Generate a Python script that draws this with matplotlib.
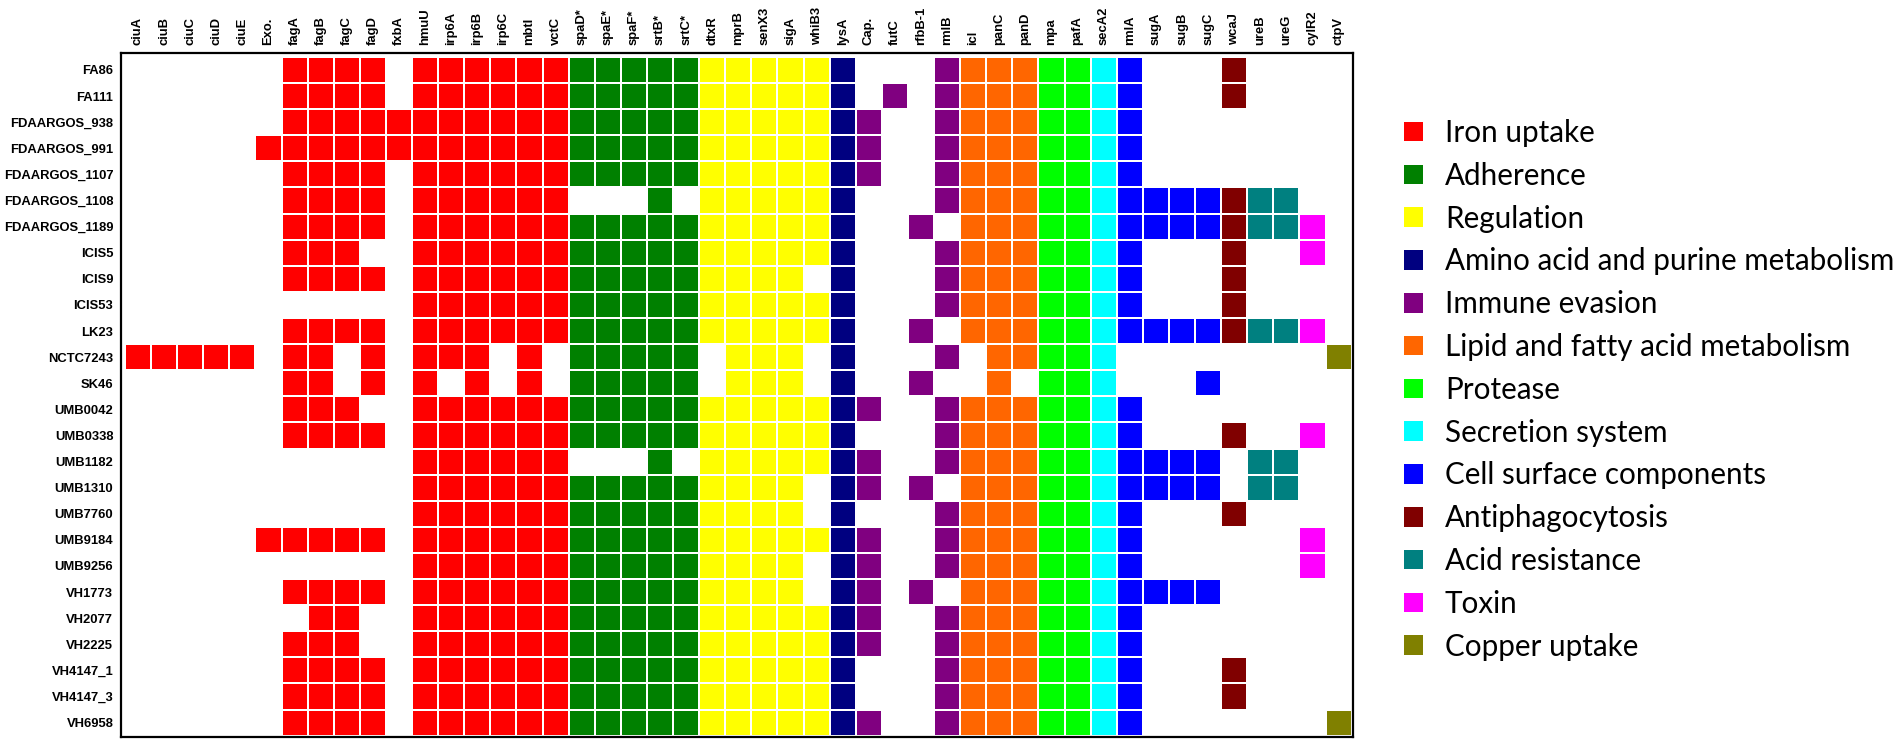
import numpy as np
import matplotlib
matplotlib.use('Agg')
from matplotlib import pyplot as plt
from matplotlib.colors import ListedColormap, BoundaryNorm
from matplotlib.patches import Patch

# strains (rows) and virulence genes (columns)
strains = ['FA86', 'FA111', 'FDAARGOS_938', 'FDAARGOS_991', 'FDAARGOS_1107', 'FDAARGOS_1108',
           'FDAARGOS_1189', 'ICIS5', 'ICIS9', 'ICIS53', 'LK23', 'NCTC7243', 'SK46', 'UMB0042',
           'UMB0338', 'UMB1182', 'UMB1310', 'UMB7760', 'UMB9184', 'UMB9256', 'VH1773', 'VH2077',
           'VH2225', 'VH4147_1', 'VH4147_3', 'VH6958']

genes = ['ciuA', 'ciuB', 'ciuC', 'ciuD', 'ciuE', 'Exo.', 'fagA', 'fagB', 'fagC', 'fagD', 'fxbA',
         'hmuU', 'irp6A', 'irp6B', 'irp6C', 'mbtI', 'vctC', 'spaD*', 'spaE*', 'spaF*', 'srtB*', 'srtC*',
         'dtxR', 'mprB', 'senX3', 'sigA', 'whiB3', 'lysA', 'Cap.', 'futC', 'rfbB-1', 'rmlB', 'icl',
         'panC', 'panD', 'mpa', 'pafA', 'secA2', 'rmlA', 'sugA', 'sugB', 'sugC', 'wcaJ', 'ureB', 'ureG',
         'cylR2', 'ctpV']

groups = ['Iron uptake', 'Adherence', 'Regulation', 'Amino acid and purine metabolism',
          'Immune evasion', 'Lipid and fatty acid metabolism', 'Protease', 'Secretion system',
          'Cell surface components', 'Antiphagocytosis', 'Acid resistance', 'Toxin', 'Copper uptake']

group_colors = ['#FF0000', '#008000', '#FFFF00', '#000080', '#800080', '#FF6600', '#00FF00',
                '#00FFFF', '#0000FF', '#800000', '#008080', '#FF00FF', '#808000']

# group index of every gene column
gene_groups = [0] * 17 + [1] * 5 + [2] * 5 + [3] + [4] * 4 + [5] * 3 + [6] * 2 + [7] + [8] * 4 + [9] + [10] * 2 + [11] + [12]

# presence (1) / absence (0), one string per strain, spaces only split the gene blocks
presence = [
    '00000 0 1111 0 111111 11111 11111 1 0001 111 11 1 1000 1 00 0 0',  # FA86
    '00000 0 1111 0 111111 11111 11111 1 0101 111 11 1 1000 1 00 0 0',  # FA111
    '00000 0 1111 1 111111 11111 11111 1 1001 111 11 1 1000 0 00 0 0',  # FDAARGOS_938
    '00000 1 1111 1 111111 11111 11111 1 1001 111 11 1 1000 0 00 0 0',  # FDAARGOS_991
    '00000 0 1111 0 111111 11111 11111 1 1001 111 11 1 1000 0 00 0 0',  # FDAARGOS_1107
    '00000 0 1111 0 111111 00010 11111 1 0001 111 11 1 1111 1 11 0 0',  # FDAARGOS_1108
    '00000 0 1111 0 111111 11111 11111 1 0010 111 11 1 1111 1 11 1 0',  # FDAARGOS_1189
    '00000 0 1110 0 111111 11111 11111 1 0001 111 11 1 1000 1 00 1 0',  # ICIS5
    '00000 0 1111 0 111111 11111 11110 1 0001 111 11 1 1000 1 00 0 0',  # ICIS9
    '00000 0 0000 0 111111 11111 11111 1 0001 111 11 1 1000 1 00 0 0',  # ICIS53
    '00000 0 1111 0 111111 11111 11111 1 0010 111 11 1 1111 1 11 1 0',  # LK23
    '11111 0 1101 0 111010 11111 01110 1 0001 011 11 1 0000 0 00 0 1',  # NCTC7243
    '00000 0 1101 0 101010 11111 01110 1 0010 010 11 1 0001 0 00 0 0',  # SK46
    '00000 0 1110 0 111111 11111 11111 1 1001 111 11 1 1000 0 00 0 0',  # UMB0042
    '00000 0 1111 0 111111 11111 11111 1 0001 111 11 1 1000 1 00 1 0',  # UMB0338
    '00000 0 0000 0 111111 00010 11111 1 1001 111 11 1 1111 0 11 0 0',  # UMB1182
    '00000 0 0000 0 111111 11111 11110 1 1010 111 11 1 1111 0 11 0 0',  # UMB1310
    '00000 0 0000 0 111111 11111 11110 1 0001 111 11 1 1000 1 00 0 0',  # UMB7760
    '00000 1 1111 0 111111 11111 11111 1 1001 111 11 1 1000 0 00 1 0',  # UMB9184
    '00000 0 0000 0 111111 11111 11110 1 1001 111 11 1 1000 0 00 1 0',  # UMB9256
    '00000 0 1111 0 111111 11111 11110 1 1010 111 11 1 1111 0 00 0 0',  # VH1773
    '00000 0 0110 0 111111 11111 11111 1 1001 111 11 1 1000 0 00 0 0',  # VH2077
    '00000 0 1110 0 111111 11111 11111 1 1001 111 11 1 1000 0 00 0 0',  # VH2225
    '00000 0 1111 0 111111 11111 11111 1 0001 111 11 1 1000 1 00 0 0',  # VH4147_1
    '00000 0 1111 0 111111 11111 11111 1 0001 111 11 1 1000 1 00 0 0',  # VH4147_3
    '00000 0 1111 0 111111 11111 11111 1 1001 111 11 1 1000 0 00 0 1',  # VH6958
]

mat = np.array([[int(c) for c in row.replace(' ', '')] for row in presence])
codes = mat * (np.array(gene_groups) + 1)   # 0 = absent, k = group k-1

W, H = 1902, 744
fig = plt.figure(figsize=(W / 100, H / 100), dpi=100)
ax = fig.add_axes([121 / W, 1 - 737 / H, 1232 / W, 684 / H])

cmap = ListedColormap(['white'] + group_colors)
norm = BoundaryNorm(np.arange(-0.5, len(groups) + 1), cmap.N)
ax.pcolormesh(np.arange(len(genes) + 1), np.arange(len(strains) + 1), codes,
              cmap=cmap, norm=norm, edgecolors='white', linewidth=1.2)
ax.set_xlim(-0.15, len(genes) + 0.05)
ax.set_ylim(len(strains) + 0.05, -0.15)

ax.xaxis.tick_top()
ax.set_xticks(np.arange(len(genes)) + 0.5)
ax.set_xticklabels(genes, rotation=90, fontsize=9.4, fontweight='bold', family='Liberation Sans')
ax.set_yticks(np.arange(len(strains)) + 0.5)
ax.set_yticklabels(strains, fontsize=9.4, fontweight='bold', family='Liberation Sans')
ax.tick_params(length=0, pad=5.5)
for s in ax.spines.values():
    s.set_linewidth(1.6)
    s.set_color('black')

# legend of gene groups
handles = [Patch(facecolor=c, edgecolor='none') for c in group_colors]
fig.legend(handles, groups, loc='upper left', bbox_to_anchor=(1404 / W, 1 - 119 / H),
           frameon=False, prop={'family': 'Lato', 'size': 21.3},
           handlelength=0.64, handleheight=0.64, handletextpad=0.74,
           labelspacing=0.5, borderpad=0, borderaxespad=0)

plt.savefig('out.png', dpi=100)
